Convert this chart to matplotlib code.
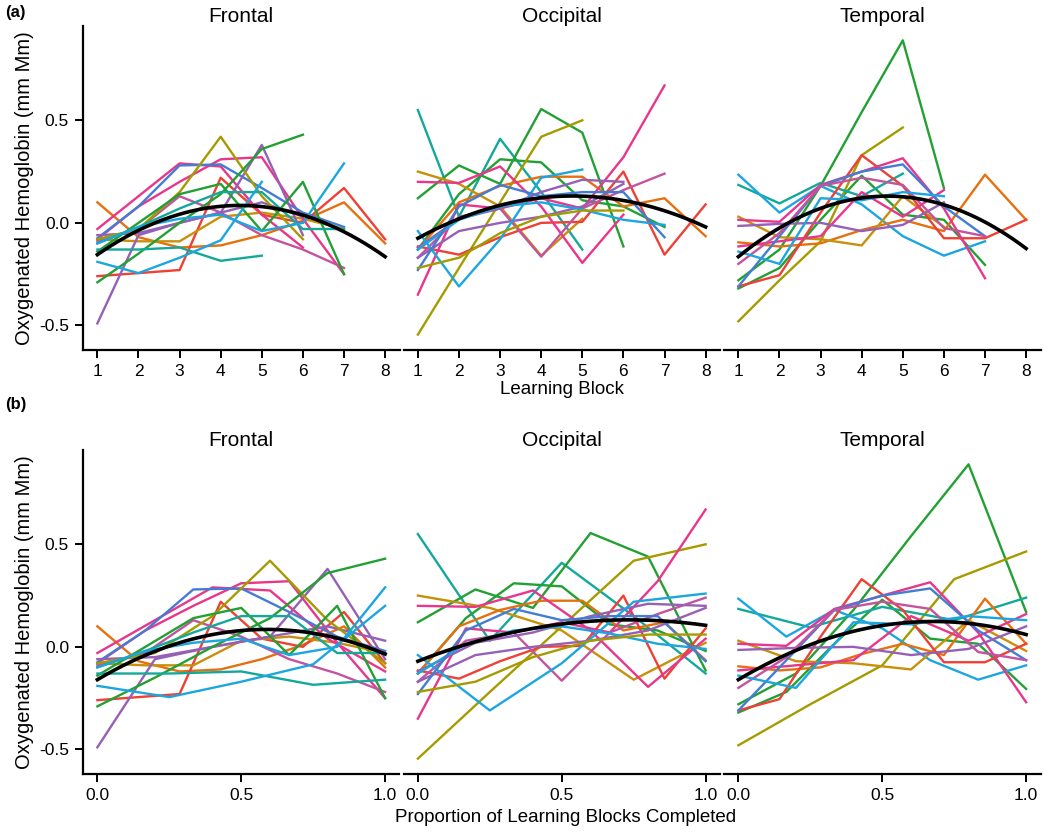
import numpy as np
import matplotlib.pyplot as plt

plt.rcParams['font.family'] = ['Liberation Sans', 'DejaVu Sans']

regions = ['Frontal', 'Occipital', 'Temporal']

palette = {'red': '#EE4035', 'orange': '#E6700F', 'gold': '#C8900A', 'olive': '#A59B00',
           'green': '#22A033', 'teal': '#14A89B', 'lblue': '#1CA6DF', 'blue': '#437DD3',
           'purple': '#9560B5', 'magenta': '#C4539F', 'pink': '#E8368C'}

# one list per participant, one value per completed learning block
frontal_cols = ['orange', 'red', 'gold', 'pink', 'pink', 'blue', 'magenta', 'purple',
                'purple', 'olive', 'green', 'green', 'teal', 'teal', 'lblue', 'lblue']
frontal = [
    [0.10, -0.07, -0.12, -0.11, -0.06, 0.01, 0.10, -0.10],
    [-0.26, -0.245, -0.23, 0.22, 0.04, 0.0, 0.17, -0.08],
    [-0.08, -0.09, -0.09, 0.03, 0.05, 0.02, -0.03],
    [-0.03, 0.13, 0.29, 0.275, 0.04, -0.12],
    [-0.08, 0.08, 0.20, 0.31, 0.32, 0.02, -0.25],
    [-0.075, 0.08, 0.28, 0.285, 0.17, 0.05, -0.02],
    [-0.09, -0.03, 0.13, 0.05, -0.06, -0.13, -0.22],
    [-0.49, -0.06, 0.0, 0.05, 0.38, -0.06],
    [-0.06, -0.05, 0.0, 0.05, 0.10, 0.03],
    [-0.08, -0.03, 0.15, 0.42, 0.13, -0.08],
    [-0.29, -0.15, 0.0, 0.14, 0.36, 0.43],
    [-0.14, 0.0, 0.14, 0.19, -0.04, 0.20, -0.25],
    [-0.13, -0.13, -0.12, -0.185, -0.16],
    [-0.10, -0.02, 0.07, 0.15, 0.15, -0.03, -0.03],
    [-0.19, -0.245, -0.17, -0.085, 0.20],
    [-0.10, -0.02, 0.02, 0.04, -0.04, 0.0, 0.29],
]

occipital_cols = ['teal', 'green', 'green', 'olive', 'gold', 'orange', 'red', 'pink',
                  'pink', 'magenta', 'purple', 'purple', 'lblue', 'lblue', 'blue', 'olive']
occipital = [
    [0.55, 0.03, 0.41, 0.15, -0.13],
    [0.12, 0.28, 0.19, 0.555, 0.44, -0.115],
    [-0.13, 0.14, 0.31, 0.295, 0.11, 0.08, -0.02],
    [-0.545, -0.22, 0.10, 0.42, 0.50],
    [0.25, 0.19, 0.08, -0.16, 0.02],
    [-0.13, 0.10, 0.18, 0.225, 0.225, 0.08, 0.12, -0.065],
    [-0.115, -0.155, -0.07, 0.0, 0.005, 0.25, -0.155, 0.09],
    [0.20, 0.195, 0.275, 0.08, -0.195, 0.04],
    [-0.35, 0.09, 0.07, 0.12, 0.07, 0.32, 0.67],
    [-0.17, 0.03, 0.07, -0.165, 0.07, 0.16, 0.24],
    [-0.17, -0.04, 0.0, 0.03, 0.08, 0.19],
    [-0.12, 0.02, 0.07, 0.15, 0.21, 0.20],
    [-0.04, -0.31, -0.08, 0.22, 0.26],
    [-0.13, 0.015, 0.08, 0.10, 0.065, 0.015, -0.01],
    [-0.23, 0.08, 0.185, 0.13, 0.15, 0.15, -0.07],
    [-0.22, -0.17, -0.05, 0.03, 0.06, 0.06],
]

temporal_cols = ['green', 'green', 'olive', 'teal', 'lblue', 'orange', 'gold', 'red',
                 'pink', 'pink', 'blue', 'purple', 'magenta', 'lblue']
temporal = [
    [-0.28, -0.13, 0.18, 0.54, 0.89, 0.17],
    [-0.32, -0.22, 0.015, 0.23, 0.04, 0.015, -0.205],
    [-0.48, -0.28, -0.09, 0.33, 0.465],
    [0.185, 0.095, 0.195, 0.13, 0.24],
    [0.235, 0.05, 0.18, 0.09, -0.065, -0.16, -0.09],
    [-0.095, -0.115, -0.10, -0.035, 0.015, -0.04, 0.235, 0.015],
    [0.03, -0.07, -0.08, -0.11, 0.13, -0.02],
    [-0.31, -0.255, 0.05, 0.33, 0.18, -0.075, -0.075, 0.015],
    [0.015, 0.005, 0.185, 0.25, 0.315, 0.07, -0.27],
    [-0.115, -0.09, -0.065, 0.15, 0.03, 0.16],
    [-0.31, -0.065, 0.18, 0.25, 0.285, 0.08, -0.065],
    [-0.015, -0.005, 0.0, -0.04, -0.01, 0.10],
    [-0.20, -0.05, 0.18, 0.22, 0.185, -0.025, -0.065],
    [-0.14, -0.20, 0.12, 0.11, 0.15, 0.13],
]

# group-level quadratic trend, read at three points per facet
fit_block_x = [1, 4.5, 8]
fit_block_y = {'Frontal': [-0.155, 0.085, -0.165],
               'Occipital': [-0.075, 0.13, -0.02],
               'Temporal': [-0.165, 0.13, -0.125]}
fit_prop_x = [0.0, 0.6, 1.0]
fit_prop_y = {'Frontal': [-0.16, 0.085, -0.035],
              'Occipital': [-0.07, 0.125, 0.105],
              'Temporal': [-0.16, 0.12, 0.06]}

data = {'Frontal': (frontal, frontal_cols),
        'Occipital': (occipital, occipital_cols),
        'Temporal': (temporal, temporal_cols)}

fig = plt.figure(figsize=(10.5, 8.35), dpi=100)
W, H = 1050., 835.
lefts = [83, 403.5, 724]
pw = 316.5
rows = {'a': 350, 'b': 774}
ph = 324

ylim = (-0.62, 0.96)

for panel in ['a', 'b']:
    axes = []
    for k, reg in enumerate(regions):
        ax = fig.add_axes([lefts[k] / W, 1 - rows[panel] / H, pw / W, ph / H])
        axes.append(ax)
        vals, cols = data[reg]
        for v, c in zip(vals, cols):
            v = np.array(v)
            if panel == 'a':
                x = np.arange(1, len(v) + 1)
            else:
                x = np.arange(len(v)) / (len(v) - 1)
            ax.plot(x, v, color=palette[c], lw=1.7)
        if panel == 'a':
            coef = np.polyfit(fit_block_x, fit_block_y[reg], 2)
            xs = np.linspace(1, 8, 200)
            ax.set_xlim(0.65, 8.35)
            ax.set_xticks(range(1, 9))
        else:
            coef = np.polyfit(fit_prop_x, fit_prop_y[reg], 2)
            xs = np.linspace(0, 1, 200)
            ax.set_xlim(-0.05, 1.05)
            ax.set_xticks([0, 0.5, 1.0])
            ax.set_xticklabels(['0.0', '0.5', '1.0'])
        ax.plot(xs, np.polyval(coef, xs), color='black', lw=2.6)
        ax.set_ylim(*ylim)
        ax.set_title(reg, fontsize=15, pad=3)
        for s in ['top', 'right']:
            ax.spines[s].set_visible(False)
        ax.spines['bottom'].set_linewidth(1.6)
        ax.spines['left'].set_linewidth(1.6)
        ax.tick_params(axis='both', direction='out', length=6, width=1.4,
                       labelsize=12.5, colors='black', pad=4)
        ax.set_yticks([-0.5, 0.0, 0.5])
        ax.set_yticklabels(['-0.5', '0.0', '0.5'])
        if k > 0:
            ax.spines['left'].set_visible(False)
            ax.tick_params(axis='y', left=False, labelleft=False)
    axes[0].set_ylabel('Oxygenated Hemoglobin (mm Mm)', fontsize=14.5, labelpad=4)

fig.text(562 / W, 1 - 390 / H, 'Learning Block', ha='center', va='center', fontsize=13.5)
fig.text(566 / W, 1 - 817 / H, 'Proportion of Learning Blocks Completed', ha='center',
         va='center', fontsize=13.5)
fig.text(5 / W, 1 - 13 / H, '(a)', fontsize=12, fontweight='bold', va='center')
fig.text(5 / W, 1 - 405 / H, '(b)', fontsize=12, fontweight='bold', va='center')

fig.savefig('out.png', dpi=100)
